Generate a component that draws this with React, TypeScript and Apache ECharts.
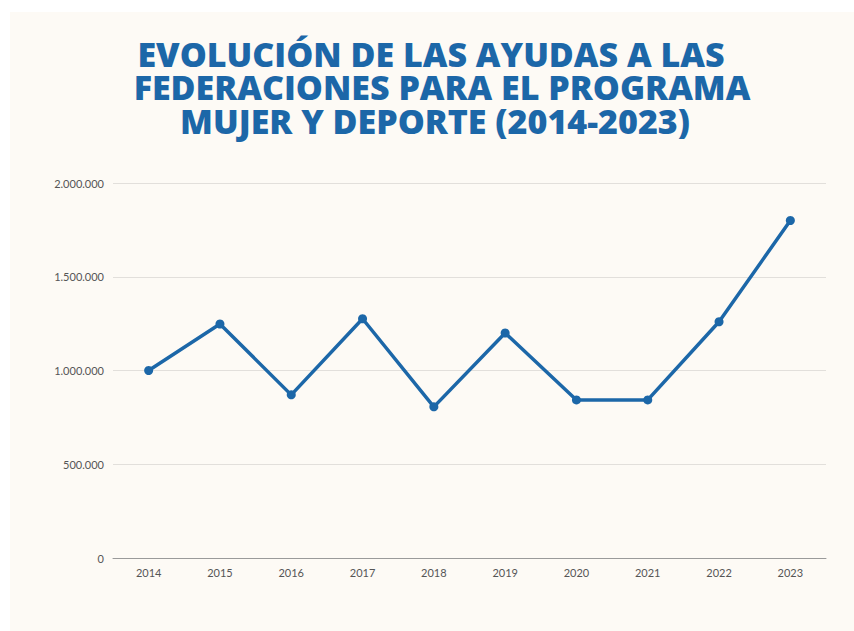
import React, { useEffect, useRef } from "react";
import * as echarts from "echarts";

const years = ["2014", "2015", "2016", "2017", "2018", "2019", "2020", "2021", "2022", "2023"];
const ayudas = [1000000, 1248000, 870000, 1276000, 806000, 1200000, 843000, 843000, 1260000, 1800000];
const titleLines = [
  "EVOLUCIÓN DE LAS AYUDAS A LAS",
  "FEDERACIONES PARA EL PROGRAMA",
  "MUJER Y DEPORTE (2014-2023)",
];

const fmt = (v: number) => String(Math.round(v)).replace(/\B(?=(\d{3})+(?!\d))/g, ".");

const titleCenters = [431, 442, 435];
const titleTops = [37, 70, 104];

export default function App() {
  const ref = useRef<HTMLDivElement>(null);
  useEffect(() => {
    if (!ref.current) return;
    const chart = echarts.init(ref.current, null, { renderer: "svg" });
    chart.setOption({
      animation: false,
      backgroundColor: "#ffffff",
      graphic: [
        {
          type: "rect",
          z: -10,
          silent: true,
          shape: { x: 10, y: 12, width: 844, height: 619 },
          style: { fill: "#fdfaf5" },
        },
      ],
      title: titleLines.map((t, i) => ({
        text: t,
        left: titleCenters[i],
        top: titleTops[i],
        textAlign: "center",
        padding: 0,
        textStyle: {
          fontFamily: "Open Sans",
          fontWeight: 800,
          fontSize: 34,
          lineHeight: 34,
          color: "#1c67a8",
        },
      })),
      grid: { left: 113, right: 28, top: 183, bottom: 73 },
      xAxis: {
        type: "category",
        data: years,
        boundaryGap: true,
        axisLine: { lineStyle: { color: "#9a9a9a", width: 1 } },
        axisTick: { show: false },
        axisLabel: { color: "#555555", fontFamily: "Lato", fontSize: 11, margin: 9 },
      },
      yAxis: {
        type: "value",
        min: 0,
        max: 2000000,
        interval: 500000,
        axisLine: { show: false },
        axisTick: { show: false },
        axisLabel: {
          color: "#555555",
          fontFamily: "Lato",
          fontSize: 11,
          margin: 9,
          formatter: (v: number) => fmt(v),
        },
        splitLine: { lineStyle: { color: "#e2dfdb", width: 1 } },
      },
      series: [
        {
          type: "line",
          data: ayudas,
          symbol: "circle",
          symbolSize: 9,
          lineStyle: { color: "#1c67a8", width: 3.5 },
          itemStyle: { color: "#1c67a8" },
        },
      ],
    });
    return () => chart.dispose();
  }, []);
  return (
    <div
      ref={ref}
      style={{ position: "fixed", left: 0, top: 0, width: 854, height: 631 }}
    />
  );
}
